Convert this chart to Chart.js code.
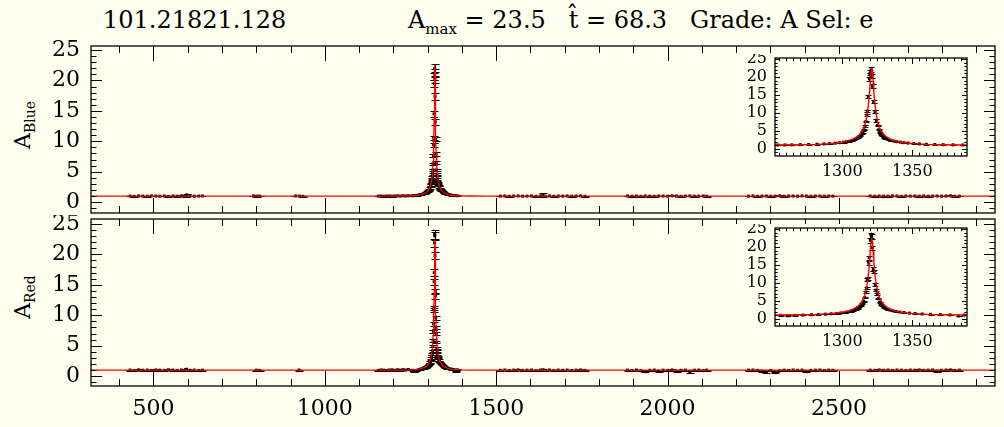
<!DOCTYPE html>
<html>
<head>
<meta charset="utf-8">
<script src="https://cdn.jsdelivr.net/npm/chart.js@4.4.0/dist/chart.umd.min.js"></script>
<style>
body { margin:0; background:#fffff0; width:1004px; height:427px; overflow:hidden; position:relative; font-family:'DejaVu Serif', serif; color:#000; }
canvas { position:absolute; }
.t { position:absolute; top:6px; font-size:24px; white-space:pre; }
.t sub { font-size:15px; }
.yl { position:absolute; font-size:22px; white-space:nowrap; transform:translate(-50%,-50%) rotate(-90deg); }
.yl sub { font-size:14px; }
</style>
</head>
<body>
<div class="t" style="left:103px">101.21821.128</div>
<div class="t" style="left:408px">A<sub>max</sub> = 23.5   t̂ = 68.3   Grade: A Sel: e</div>
<div class="yl" style="left:24px;top:125px">A<sub>Blue</sub></div>
<div class="yl" style="left:24px;top:297px">A<sub>Red</sub></div>

<canvas id="blueMain" width="1004" height="217" style="left:0;top:0"></canvas>
<canvas id="redMain" width="1004" height="212" style="left:0;top:215px"></canvas>
<canvas id="blueInset" width="240" height="131" style="left:735px;top:54px"></canvas>
<canvas id="redInset" width="240" height="131" style="left:735px;top:224px"></canvas>

<script>
// tick labels
const dayTicks = [500, 1000, 1500, 2000, 2500];
const zoomDayTicks = [1300, 1350];
const ampTicks = [0, 5, 10, 15, 20, 25];

// fitted microlensing curve
const fitDays = [318, 821, 1021, 1171, 1221, 1251, 1271, 1281, 1291, 1296, 1301, 1305, 1308, 1311, 1312, 1313, 1314, 1315, 1316, 1317, 1318, 1319, 1319.5, 1320, 1320.5, 1321,
  1321.5, 1322, 1322.5, 1323, 1324, 1325, 1326, 1327, 1328, 1329, 1330, 1331, 1334, 1337, 1341, 1346, 1351, 1361, 1371, 1391, 1421, 1471, 1621, 1821, 2955];
const fitAmp = [1.0, 1.0, 1.0003, 1.0045, 1.0185, 1.056, 1.142, 1.242, 1.443, 1.624, 1.915, 2.297, 2.751, 3.486, 3.841, 4.283, 4.846, 5.585, 6.59, 8.03, 10.19, 13.62, 16.02, 18.79, 21.37, 22.49,
  21.37, 18.79, 16.02, 13.62, 10.19, 8.03, 6.59, 5.585, 4.846, 4.283, 3.841, 3.486, 2.751, 2.297, 1.915, 1.624, 1.443, 1.242, 1.142, 1.056, 1.0185, 1.0045, 1.0003, 1.0, 1.0];

// blue band observations
const blueDays = [432, 444, 457, 469, 482, 494, 507, 519, 532, 544, 557, 569, 582, 594, 597, 607, 619, 632, 643,
  792, 801, 810, 915, 926, 936,
  1156, 1164, 1172, 1180, 1188, 1196, 1204, 1212, 1220, 1228, 1236, 1244,
  1254, 1259, 1264, 1270, 1276, 1282, 1287, 1291, 1295, 1298, 1301, 1303, 1305, 1307, 1308.5, 1310, 1311, 1312, 1313, 1314, 1314.8, 1315.6, 1316.3, 1316.9, 1317.5, 1318.0, 1318.6, 1319.4, 1319.8, 1320.1, 1320.6,
  1321.2, 1321.6, 1322.4, 1323.4, 1324.3, 1325.2, 1326, 1326.8, 1327.6, 1328.5, 1329.5, 1330.6, 1332, 1333.5, 1335, 1337, 1339, 1341.5, 1344, 1347, 1351, 1355, 1360, 1366, 1372, 1379, 1386,
  1512, 1525, 1538, 1551, 1564, 1577, 1590, 1603, 1616, 1629, 1636, 1642, 1655, 1668, 1681, 1694, 1707, 1720, 1733, 1746, 1759,
  1883, 1896, 1909, 1922, 1935, 1948, 1961, 1974, 1987, 2000, 2013, 2026, 2039, 2052, 2065, 2078, 2091, 2104, 2114,
  2236, 2249, 2262, 2275, 2288, 2301, 2314, 2327, 2340, 2353, 2366, 2379, 2392, 2405, 2418, 2431, 2444, 2457, 2470, 2482,
  2591, 2604, 2617, 2630, 2643, 2656, 2669, 2682, 2695, 2708, 2721, 2734, 2747, 2760, 2773, 2786, 2799, 2812, 2825, 2838, 2851];
const blueAmp = [1.01, 0.97, 1.03, 1.00, 0.98, 1.04, 1.01, 0.99, 1.02, 0.96, 1.03, 1.00, 1.05, 0.98, 1.2, 1.02, 0.99, 1.01, 1.03,
  1.02, 0.99, 1.01, 1.03, 1.0, 0.98,
  1.0, 1.02, 0.98, 1.01, 1.03, 0.99, 1.02, 1.04, 1.01, 1.05, 1.03, 1.07,
  1.06, 1.08, 1.1, 1.15, 1.2, 1.28, 1.36, 1.45, 1.58, 1.7, 1.85, 1.98, 2.12, 2.35, 2.55, 2.8, 3.05, 3.4, 3.75, 4.2, 4.7, 5.3, 6.3, 7.6, 9.4, 10.5, 14.5, 19.5, 20.6, 21.2, 22.0,
  20.2, 17.4, 13.2, 10.4, 7.9, 6.5, 5.3, 4.6, 4.1, 3.6, 3.25, 2.95, 2.7, 2.5, 2.3, 2.15, 2.0, 1.85, 1.72, 1.6, 1.47, 1.37, 1.27, 1.2, 1.14, 1.1, 1.07,
  1.0, 1.02, 0.98, 1.01, 1.03, 0.99, 1.0, 1.02, 0.97, 1.01, 1.2, 1.0, 1.03, 0.98, 1.01, 1.0, 1.02, 0.99, 1.01, 1.03, 0.98,
  1.02, 0.99, 1.01, 0.97, 1.03, 1.0, 0.98, 1.02, 1.01, 0.99, 1.04, 1.0, 0.98, 1.01, 1.03, 0.99, 1.0, 1.02, 0.98,
  1.0, 1.03, 0.98, 1.01, 1.02, 0.99, 1.0, 1.04, 0.97, 1.01, 1.02, 0.99, 1.03, 1.0, 0.98, 1.01, 1.02, 0.99, 1.01, 1.0,
  1.01, 0.98, 1.02, 1.0, 0.99, 1.03, 1.01, 0.97, 1.02, 1.0, 1.01, 0.99, 1.03, 0.98, 1.0, 1.02, 0.99, 1.01, 1.04, 0.98, 1.0];
const blueErr = [.06, .05, .07, .06, .05, .06, .07, .05, .06, .06, .05, .07, .06, .05, .12, .06, .05, .06, .07,
  .06, .07, .06, .06, .06, .07,
  .05, .06, .05, .06, .05, .06, .05, .06, .05, .06, .05, .06,
  .06, .06, .07, .07, .07, .08, .08, .08, .08, .09, .09, .1, .1, .1, .1, .12, .12, .13, .14, .15, .16, .18, .2, .25, .3, .35, .45, .6, .6, .7, .7,
  .6, .55, .45, .35, .3, .22, .18, .15, .14, .13, .12, .11, .1, .1, .1, .09, .09, .08, .08, .08, .07, .07, .07, .06, .06, .06, .06,
  .06, .05, .06, .07, .06, .05, .06, .06, .07, .05, .3, .06, .05, .06, .07, .06, .05, .06, .06, .07, .05,
  .06, .07, .05, .06, .06, .07, .05, .06, .06, .05, .07, .06, .06, .05, .06, .07, .06, .05, .06,
  .05, .06, .07, .06, .05, .06, .06, .07, .05, .06, .06, .05, .07, .06, .06, .05, .06, .07, .06, .05,
  .06, .05, .06, .07, .06, .05, .06, .06, .07, .05, .06, .06, .05, .07, .06, .06, .05, .06, .07, .06, .05];

// red band observations
const redDays = [432, 444, 457, 469, 482, 494, 507, 519, 532, 544, 557, 569, 582, 594, 597, 607, 619, 632, 643,
  800, 810, 925,
  1156, 1164, 1172, 1180, 1188, 1196, 1204, 1212, 1220, 1228, 1236, 1244,
  1256, 1261, 1266, 1272, 1278, 1283, 1288, 1292, 1296, 1299, 1302, 1304, 1306, 1308, 1309.5, 1311, 1312.2, 1313.3, 1314.3, 1315.2, 1316, 1316.8, 1317.4, 1317.9, 1318.3, 1318.9, 1319.2, 1320.0, 1320.5, 1320.9,
  1321.4, 1322.2, 1322.7, 1323.5, 1324.2, 1325, 1325.8, 1326.6, 1327.5, 1328.5, 1329.6, 1331, 1332.5, 1334, 1336, 1338.5, 1341, 1344, 1348, 1352, 1357, 1363, 1370, 1377, 1383, 1387,
  1512, 1525, 1538, 1551, 1564, 1577, 1590, 1603, 1616, 1629, 1636, 1642, 1655, 1668, 1681, 1694, 1707, 1720, 1733, 1746, 1759,
  1883, 1896, 1909, 1922, 1935, 1948, 1961, 1974, 1987, 2000, 2013, 2026, 2039, 2052, 2065, 2078, 2091, 2104, 2114,
  2236, 2249, 2262, 2275, 2288, 2301, 2314, 2327, 2340, 2353, 2366, 2379, 2392, 2405, 2418, 2431, 2444, 2457, 2470, 2482,
  2591, 2604, 2617, 2630, 2643, 2656, 2669, 2682, 2695, 2708, 2721, 2734, 2747, 2760, 2773, 2786, 2799, 2812, 2825, 2838, 2851];
const redAmp = [1.02, 0.95, 1.05, 0.99, 1.01, 0.96, 1.03, 1.0, 0.97, 1.06, 1.01, 0.96, 1.02, 1.1, 1.15, 0.98, 1.01, 0.95, 1.0,
  1.0, 0.97, 1.02,
  0.97, 1.03, 1.0, 0.94, 1.02, 1.05, 0.98, 1.06, 1.0, 1.08, 1.02, 1.1,
  0.98, 0.85, 0.95, 1.05, 1.15, 1.22, 1.3, 1.4, 1.5, 1.62, 1.75, 1.9, 2.1, 2.35, 2.6, 2.95, 3.3, 3.7, 4.2, 4.9, 5.9, 7.4, 8.6, 10.9, 11.2, 15.5, 17.0, 21.9, 23.3, 23.0,
  19.8, 13.9, 13.2, 9.6, 8.0, 7.0, 5.6, 4.6, 4.1, 3.6, 3.25, 2.95, 2.65, 2.45, 2.25, 2.05, 1.88, 1.75, 1.58, 1.46, 1.35, 1.25, 1.17, 1.1, 0.8, 1.05,
  0.98, 1.03, 0.95, 1.01, 1.04, 0.97, 1.0, 1.02, 0.93, 1.01, 1.05, 0.99, 1.03, 0.96, 1.01, 0.98, 1.02, 0.95, 1.0, 1.03, 0.97,
  1.0, 0.95, 1.02, 0.9, 0.75, 0.98, 1.01, 0.85, 1.0, 0.97, 1.03, 0.8, 0.98, 1.01, 0.7, 0.99, 1.02, 0.92, 1.0,
  1.0, 1.02, 0.96, 0.85, 0.7, 0.95, 0.6, 0.9, 1.0, 0.96, 1.02, 0.98, 1.01, 0.75, 0.97, 1.0, 1.02, 0.95, 1.01, 0.98,
  1.0, 0.97, 1.03, 0.98, 1.01, 0.96, 1.02, 1.0, 0.95, 1.01, 0.99, 1.03, 0.97, 1.0, 1.02, 0.85, 0.98, 1.01, 1.04, 0.96, 1.0];
const redErr = [.08, .07, .09, .08, .07, .08, .09, .07, .08, .08, .07, .09, .08, .07, .12, .08, .07, .08, .09,
  .08, .09, .08,
  .07, .08, .07, .08, .07, .08, .07, .08, .07, .08, .07, .08,
  .08, .08, .08, .08, .08, .08, .09, .09, .1, .1, .1, .1, .11, .12, .12, .13, .14, .15, .16, .18, .2, .25, .3, .35, .4, .5, .55, .65, .7, .7,
  .6, .45, .45, .35, .3, .25, .2, .17, .15, .14, .13, .12, .11, .1, .1, .1, .09, .09, .09, .08, .08, .08, .08, .08, .1, .08,
  .08, .07, .08, .09, .08, .07, .08, .08, .09, .07, .1, .08, .07, .08, .09, .08, .07, .08, .08, .09, .07,
  .08, .09, .07, .1, .12, .08, .07, .1, .08, .07, .09, .11, .08, .07, .12, .09, .08, .1, .08,
  .07, .08, .09, .1, .12, .08, .14, .1, .07, .08, .08, .07, .09, .12, .08, .08, .07, .09, .08, .07,
  .08, .07, .08, .09, .08, .07, .08, .08, .09, .07, .08, .08, .07, .09, .08, .1, .07, .08, .09, .08, .07];

const range = (a, b, s) => { const r = []; for (let v = a; v <= b + 1e-9; v += s) r.push(v); return r; };

Chart.defaults.font.family = "'DejaVu Serif', serif";
Chart.defaults.color = '#000';

const framePlugin = {
  id: 'frame',
  beforeDraw(chart, args, o) {
    if (!o.bg) return;
    const ctx = chart.ctx;
    ctx.save();
    ctx.fillStyle = o.bg;
    ctx.fillRect(0, 0, chart.width, chart.height);
    ctx.restore();
  },
  afterDatasetsDraw(chart, args, o) {
    const { ctx, chartArea: a, scales: { x, y } } = chart;
    ctx.save();
    ctx.strokeStyle = '#000';
    ctx.lineWidth = o.lw;
    ctx.beginPath();
    const xt = (v, len) => {
      if (v <= x.min || v >= x.max) return;
      const p = Math.round(x.getPixelForValue(v)) + 0.5;
      ctx.moveTo(p, a.bottom); ctx.lineTo(p, a.bottom - len);
      ctx.moveTo(p, a.top); ctx.lineTo(p, a.top + len);
    };
    const yt = (v, len) => {
      if (v <= y.min || v >= y.max) return;
      const p = Math.round(y.getPixelForValue(v)) + 0.5;
      ctx.moveTo(a.left, p); ctx.lineTo(a.left + len, p);
      ctx.moveTo(a.right, p); ctx.lineTo(a.right - len, p);
    };
    o.xMajor.forEach(v => xt(v, o.xMajorLen));
    o.xMinor.forEach(v => xt(v, o.xMinorLen));
    o.yMajor.forEach(v => yt(v, o.yMajorLen));
    o.yMinor.forEach(v => yt(v, o.yMinorLen));
    ctx.stroke();
    ctx.lineWidth = o.frameW;
    ctx.strokeRect(a.left, a.top, a.right - a.left, a.bottom - a.top);
    ctx.restore();
  }
};

const errPlugin = {
  id: 'errbars',
  beforeDatasetsDraw(chart, args, o) {
    const { ctx, chartArea: a, scales: { x, y } } = chart;
    ctx.save();
    ctx.beginPath();
    ctx.rect(a.left, a.top, a.right - a.left, a.bottom - a.top);
    ctx.clip();
    ctx.strokeStyle = '#000';
    ctx.lineWidth = 1;
    ctx.beginPath();
    chart.data.datasets.forEach(ds => {
      if (!ds.errs) return;
      ds.data.forEach((p, i) => {
        const px = Math.round(x.getPixelForValue(p.x)) + 0.5;
        const lo = y.getPixelForValue(p.y - ds.errs[i]);
        const hi = y.getPixelForValue(p.y + ds.errs[i]);
        ctx.moveTo(px, lo); ctx.lineTo(px, hi);
        ctx.moveTo(px - o.cap, Math.round(lo) + 0.5); ctx.lineTo(px + o.cap, Math.round(lo) + 0.5);
        ctx.moveTo(px - o.cap, Math.round(hi) + 0.5); ctx.lineTo(px + o.cap, Math.round(hi) + 0.5);
      });
    });
    ctx.stroke();
    ctx.restore();
  }
};

function lightCurve(id, days, amp, errs, c) {
  return new Chart(document.getElementById(id), {
    type: 'scatter',
    plugins: [framePlugin, errPlugin],
    data: {
      datasets: [
        { type: 'line', data: fitDays.map((t, i) => ({ x: t, y: fitAmp[i] })), borderColor: '#ff0000',
          borderWidth: c.fitW, pointRadius: 0, tension: 0, fill: false },
        { data: days.map((t, i) => ({ x: t, y: amp[i] })), errs: errs, pointStyle: 'rect',
          pointRadius: c.ptR, backgroundColor: '#000', borderWidth: 0 }
      ]
    },
    options: {
      responsive: false,
      animation: false,
      events: [],
      layout: { padding: c.pad },
      plugins: {
        legend: { display: false },
        tooltip: { enabled: false },
        frame: { bg: c.bg, lw: 1, frameW: 1.3, xMajor: c.xTicks, xMinor: c.xMinor, yMajor: ampTicks, yMinor: range(-2, 26, 1),
          xMajorLen: c.xMajorLen, xMinorLen: c.xMinorLen, yMajorLen: c.yMajorLen, yMinorLen: c.yMinorLen },
        errbars: { cap: c.cap }
      },
      scales: {
        x: {
          type: 'linear', min: c.xMin, max: c.xMax, display: c.xLabels,
          grid: { display: false, drawTicks: false }, border: { display: false },
          ticks: { padding: c.xPad, font: { size: c.fs }, autoSkip: false, maxRotation: 0, callback: v => String(v) },
          afterBuildTicks: s => { s.ticks = c.xTicks.map(v => ({ value: v })); },
          afterFit: s => { s.height = c.xH; s.paddingLeft = 0; s.paddingRight = 0; }
        },
        y: {
          type: 'linear', min: c.yMin, max: c.yMax,
          grid: { display: false, drawTicks: false }, border: { display: false },
          ticks: { padding: c.yPad, font: { size: c.fs }, autoSkip: false, callback: v => String(v) },
          afterBuildTicks: s => { s.ticks = ampTicks.map(v => ({ value: v })); },
          afterFit: s => { s.width = c.yW; s.paddingTop = 0; s.paddingBottom = 0; }
        }
      }
    }
  });
}

const mainCfg = {
  xMin: 318, xMax: 2955, xTicks: dayTicks, xMinor: range(400, 2900, 100),
  xMajorLen: 15, xMinorLen: 7, yMajorLen: 11, yMinorLen: 5.5,
  fitW: 1.3, ptR: 2.1, cap: 4, fs: 22, yW: 91, yPad: 11, xPad: 10
};
const insetCfg = {
  xMin: 1252, xMax: 1389, xTicks: zoomDayTicks, xMinor: range(1255, 1385, 5),
  xMajorLen: 6, xMinorLen: 3.3, yMajorLen: 5, yMinorLen: 2.7,
  fitW: 1.4, ptR: 2.1, cap: 3, fs: 16, yW: 40, yPad: 8, xPad: 6, xH: 29, yMin: -2, yMax: 25.3,
  xLabels: true, bg: '#fffff0', pad: { top: 1, right: 8, bottom: 0, left: 0 }
};

lightCurve('blueMain', blueDays, blueAmp, blueErr,
  Object.assign({}, mainCfg, { yMin: -1.77, yMax: 25.65, xLabels: false, xH: 0, pad: { top: 46, right: 9, bottom: 1, left: 0 } }));
lightCurve('redMain', redDays, redAmp, redErr,
  Object.assign({}, mainCfg, { yMin: -1.6, yMax: 25.8, xLabels: true, xH: 41, pad: { top: 1, right: 9, bottom: 0, left: 0 } }));
lightCurve('blueInset', blueDays, blueAmp, blueErr, insetCfg);
lightCurve('redInset', redDays, redAmp, redErr, insetCfg);
</script>
</body>
</html>
